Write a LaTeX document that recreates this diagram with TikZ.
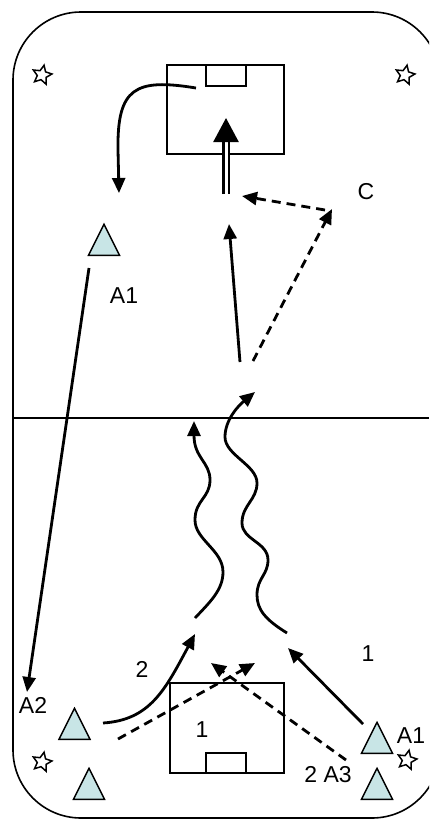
\documentclass[tikz,border=0pt]{standalone}
\usepackage{fontspec}
\setmainfont{Liberation Sans}
\usetikzlibrary{arrows.meta,shapes.geometric}
\definecolor{conefill}{RGB}{200,229,230}

\begin{document}
\begin{tikzpicture}[x=1pt, y=-1pt,
    player/.style={draw, line width=1.4pt, fill=conefill, regular polygon, regular polygon sides=3, minimum size=36pt, inner sep=0pt, yscale=1.15},
    marker/.style={draw, line width=1.5pt, fill=white, star, star points=5, star point ratio=2.1, minimum size=20pt, inner sep=0pt, rotate=-12},
    tag/.style={font=\fontsize{23}{26}\selectfont, inner sep=0pt},
    box/.style={draw, line width=1.9pt, inner sep=0pt},
    run/.style={line width=2.8pt, -{Triangle[length=15pt,width=13pt]}},
    pass/.style={run, dash pattern=on 9pt off 6pt}]
    \useasboundingbox (0,0) rectangle (429,820);
    \clip (0,0) rectangle (429,820);
    \draw[line width=1.6pt, rounded corners=68pt] (13,12) rectangle (440,818);
    \draw[line width=1.6pt] (13,418) -- (429,418);

    % goals
    \node[box, minimum width=117pt, minimum height=89pt] (goaltop) at (225.5,109.5) {};
    \node[box, minimum width=40pt, minimum height=21pt] (areatop) at (226,75.5) {};
    \node[box, minimum width=114pt, minimum height=90pt] (goalbot) at (227,728) {};
    \node[box, minimum width=40pt, minimum height=20pt] (areabot) at (226,763) {};

    % corner stars
    \node[marker] (starTL) at (42,75) {};
    \node[marker] (starTR) at (405,75) {};
    \node[marker] (starBL) at (42,762) {};
    \node[marker] (starBR) at (407,760) {};

    % players
    \node[player] (pTop) at (104,245) {};
    \node[player] (pAtwo) at (74.5,729) {};
    \node[player] (pLow) at (89,789) {};
    \node[player] (pAone) at (377,743) {};
    \node[player] (pAthree) at (377,789) {};

    % labels
    \node[tag] (labC) at (366,192) {C};
    \node[tag] (labAtop) at (124,296) {A1};
    \node[tag] (labAtwo) at (33,705) {A2};
    \node[tag] (labTwo) at (142,669) {2};
    \node[tag] (labOne) at (368,654) {1};
    \node[tag] (labBoxOne) at (202,730) {1};
    \node[tag] (labTwoAthree) at (328,775) {2 A3};
    \node[tag] (labAoneR) at (411,736) {A1};

    % upper half
    \coordinate (curlA) at (196,88);
    \coordinate (curlB) at (119,193);
    \draw[run] (curlA) .. controls (135,78) and (117,88) .. (118,150) -- (curlB);
    \coordinate (shotA) at (226,194);
    \coordinate (shotB) at (226,118);
    \draw[line width=2.5pt, double, double distance=3pt, -{Triangle[length=24pt,width=25pt]}] (shotA) -- (shotB);
    \coordinate (cIn) at (325,210);
    \coordinate (cOut) at (242,196);
    \draw[pass] (cIn) -- (cOut);
    \coordinate (runC) at (253,361);
    \coordinate (cPt) at (332,209);
    \draw[pass] (runC) -- (cPt);
    \coordinate (runS) at (240,362);
    \coordinate (runT) at (229,224);
    \draw[run] (runS) -- (runT);
    \coordinate (lpA) at (89,268);
    \coordinate (lpB) at (27,692);
    \draw[run] (lpA) -- (lpB);

    % dribbles
    \coordinate (wlA) at (195,618);
    \coordinate (wlB) at (194,421);
    \draw[run] (wlA) .. controls (210,602) and (223,590) .. (223,572)
        .. controls (223,550) and (195,540) .. (195,520)
        .. controls (195,500) and (210,498) .. (210,480)
        .. controls (210,462) and (194,458) .. (wlB);
    \coordinate (wrA) at (287,633);
    \coordinate (wrB) at (255,392);
    \draw[run] (wrA) .. controls (266,620) and (257,610) .. (257,595)
        .. controls (257,578) and (268,575) .. (268,560)
        .. controls (268,542) and (242,540) .. (242,523)
        .. controls (242,505) and (257,500) .. (257,483)
        .. controls (257,465) and (225,455) .. (225,437)
        .. controls (225,420) and (238,406) .. (wrB);

    % lower half
    \coordinate (twoA) at (103,723);
    \coordinate (twoB) at (195,634);
    \draw[run] (twoA) .. controls (150,720) and (165,690) .. (twoB);
    \coordinate (dlA) at (118,739);
    \coordinate (dlB) at (255,663);
    \draw[pass] (dlA) -- (dlB);
    \coordinate (drA) at (346,760);
    \coordinate (drB) at (211,663);
    \draw[pass] (drA) -- (drB);
    \coordinate (oneA) at (363,724);
    \coordinate (oneB) at (288,648);
    \draw[run] (oneA) -- (oneB);
\end{tikzpicture}
\end{document}
